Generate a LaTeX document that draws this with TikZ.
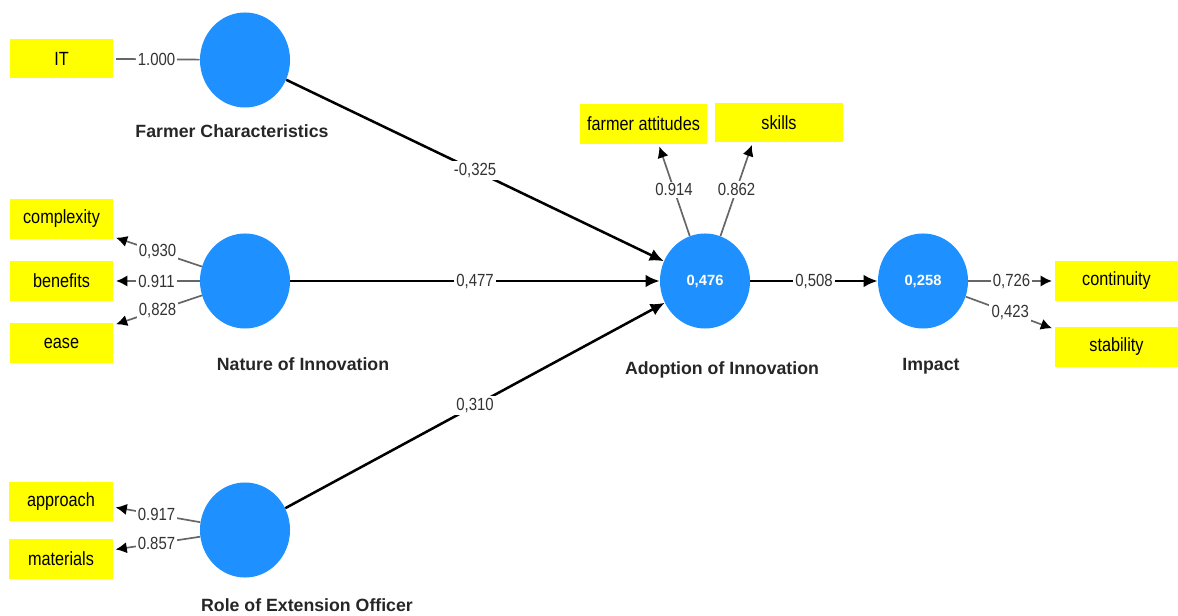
\documentclass[tikz,border=0pt]{standalone}
\usepackage{fontspec}
\setmainfont{Liberation Sans}
\newfontfamily\narrowfont[FakeStretch=0.85]{Liberation Sans}
\usetikzlibrary{arrows.meta,shapes.geometric}
\definecolor{latentblue}{RGB}{30,144,255}
\definecolor{indyellow}{RGB}{255,255,0}
\begin{document}
\begin{tikzpicture}[x=0.025cm,y=-0.025cm,
    latent/.style={ellipse,fill=latentblue,draw=none,minimum width=2.25cm,minimum height=2.375cm,inner sep=0pt,
        text=white,font=\bfseries\fontsize{10.5}{12}\selectfont},
    ind/.style={rectangle,fill=indyellow,draw=none,minimum width=2.575cm,minimum height=0.975cm,inner sep=0pt,
        font={\narrowfont\fontsize{13.6}{15}\selectfont}},
    lbl/.style={font=\bfseries\fontsize{12.6}{14}\selectfont,text=black!85},
    coef/.style={fill=white,inner sep=1.5pt,font={\narrowfont\fontsize{12.5}{14}\selectfont},text=black!80},
    path/.style={draw=black,line width=1.8pt,-{Latex[length=10pt,width=9pt]}},
    load/.style={draw=black!60,line width=1.2pt,shorten >=2pt,-{Latex[length=8pt,width=8pt,color=black]}}]
    \useasboundingbox (0,0) rectangle (1178,616);
    % constructs
    \node[latent] (fc) at (245,60) {};
    \node[latent] (ni) at (245,281) {};
    \node[latent] (re) at (245,530) {};
    \node[latent] (ai) at (705,281) {0,476};
    \node[latent] (im) at (923,281) {0,258};
    \node[lbl] (lfc) at (232,131) {Farmer Characteristics};
    \node[lbl] (lni) at (303,364) {Nature of Innovation};
    \node[lbl] (lre) at (307,605) {Role of Extension Officer};
    \node[lbl] (lai) at (722,370) {Adoption of Innovation};
    \node[lbl] (lim) at (931,366) {Impact};
    % indicators
    \node[ind] (it) at (61.5,58.5) {IT};
    \node[ind] (complexity) at (61.5,219) {complexity};
    \node[ind] (benefits) at (61.5,281) {benefits};
    \node[ind] (ease) at (61.5,343) {ease};
    \node[ind] (approach) at (61,501.5) {approach};
    \node[ind] (materials) at (61,559) {materials};
    \node[ind,minimum width=3.175cm] (attitudes) at (643.5,124) {farmer attitudes};
    \node[ind,minimum width=3.2cm] (skills) at (779,122.5) {skills};
    \node[ind,minimum width=3.075cm] (continuity) at (1116.5,281) {continuity};
    \node[ind,minimum width=3.075cm] (stability) at (1116.5,347) {stability};
    % structural paths
    \draw[path] (fc) -- node[coef] {-0,325} (ai);
    \draw[path] (ni) -- node[coef] {0,477} (ai);
    \draw[path] (re) -- node[coef] {0,310} (ai);
    \draw[path] (ai) -- node[coef] {0,508} (im);
    % loadings
    \draw[load,-] (fc) -- node[coef] {1.000} (it);
    \draw[load] (ni) -- node[coef] {0,930} (complexity.-19);
    \draw[load] (ni) -- node[coef] {0.911} (benefits);
    \draw[load] (ni) -- node[coef] {0,828} (ease.19);
    \draw[load] (re) -- node[coef] {0.917} (approach.-6);
    \draw[load] (re) -- node[coef] {0.857} (materials.10);
    \draw[load] (ai) -- node[coef] {0.914} (attitudes.-53);
    \draw[load] (ai) -- node[coef] {0.862} (skills.-143);
    \draw[load] (im) -- node[coef] {0,726} (continuity);
    \draw[load] (im) -- node[coef] {0,423} (stability.164);
\end{tikzpicture}
\end{document}
